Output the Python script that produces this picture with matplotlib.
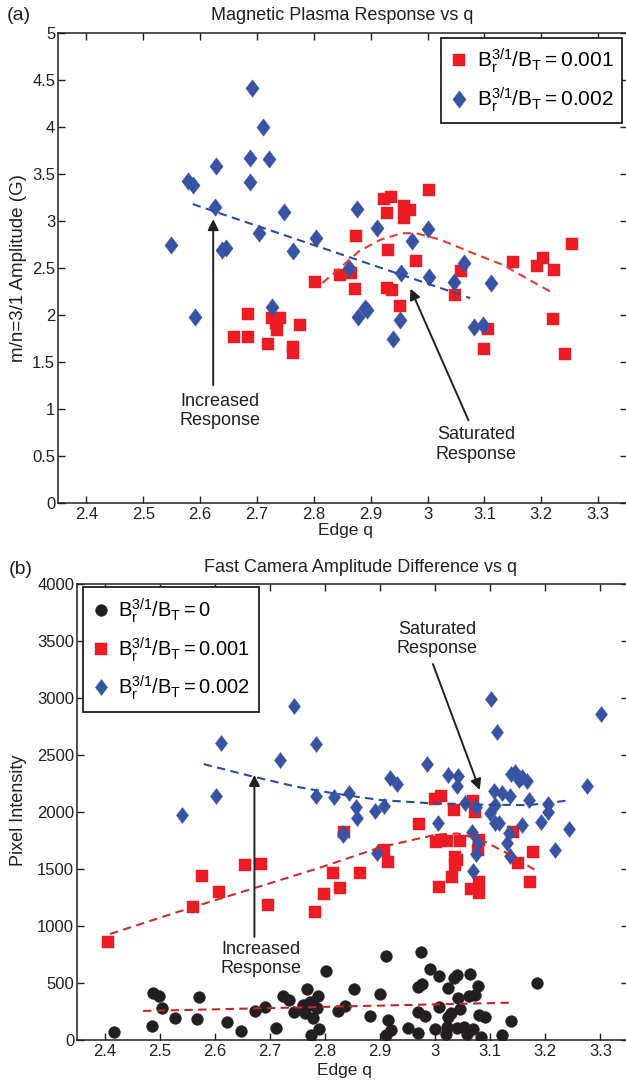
import matplotlib
matplotlib.use("Agg")
import matplotlib.pyplot as plt
from matplotlib.path import Path
from matplotlib.ticker import FuncFormatter

plt.rcParams['font.family'] = ['Liberation Sans', 'DejaVu Sans']
plt.rcParams['mathtext.fontset'] = 'custom'
plt.rcParams['mathtext.rm'] = 'Liberation Sans'
plt.rcParams['mathtext.it'] = 'Liberation Sans:italic'
plt.rcParams['mathtext.bf'] = 'Liberation Sans:bold'

# ---------------- data: panel (a) ----------------
a_red_q = [2.66, 2.684, 2.684, 2.72, 2.727, 2.735, 2.734, 2.74, 2.764, 2.764, 2.776, 2.802,
           2.846, 2.866, 3.002, 2.923, 2.935, 2.929, 2.959, 2.97, 2.958, 2.875, 2.93, 2.98,
           3.059, 3.15, 3.193, 3.203, 3.222, 3.255, 2.872, 2.929, 2.937, 3.049, 2.952, 3.106,
           3.10, 3.22, 3.241]
a_red_v = [1.77, 2.01, 1.77, 1.69, 1.97, 1.84, 1.91, 1.97, 1.66, 1.60, 1.89, 2.35,
           2.43, 2.45, 3.33, 3.23, 3.26, 3.09, 3.16, 3.12, 3.03, 2.84, 2.69, 2.57,
           2.47, 2.56, 2.52, 2.61, 2.48, 2.76, 2.28, 2.29, 2.27, 2.21, 2.10, 1.85,
           1.64, 1.96, 1.59]

a_blue_q = [2.548, 2.591, 2.579, 2.587, 2.628, 2.627, 2.638, 2.646, 2.691, 2.71, 2.687, 2.721,
            2.688, 2.703, 2.727, 2.748, 2.764, 2.804, 2.876, 2.911, 3.0, 2.973, 2.861, 2.954,
            3.003, 3.064, 3.047, 3.111, 2.890, 2.894, 2.878, 2.952, 2.94, 3.081, 3.097]
a_blue_v = [2.74, 1.98, 3.43, 3.38, 3.58, 3.15, 2.69, 2.71, 4.41, 4.00, 3.67, 3.66,
            3.42, 2.87, 2.09, 3.10, 2.68, 2.82, 3.13, 2.93, 2.92, 2.79, 2.50, 2.45,
            2.40, 2.55, 2.35, 2.34, 2.07, 2.05, 1.98, 1.95, 1.74, 1.87, 1.89]

a_fit_red_q = [2.815, 2.846, 2.88, 2.917, 2.955, 2.98, 3.023, 3.075, 3.134, 3.18, 3.219]
a_fit_red_v = [2.34, 2.50, 2.68, 2.80, 2.87, 2.87, 2.80, 2.67, 2.53, 2.37, 2.24]
a_fit_blue_q = [2.587, 3.075]
a_fit_blue_v = [3.18, 2.18]

a_legend = [r'$\mathregular{B_r^{3/1}/B_T = 0.001}$', r'$\mathregular{B_r^{3/1}/B_T = 0.002}$']
a_xticks = [2.4, 2.5, 2.6, 2.7, 2.8, 2.9, 3.0, 3.1, 3.2, 3.3]
a_yticks = [0, 0.5, 1, 1.5, 2, 2.5, 3, 3.5, 4, 4.5, 5]

# ---------------- data: panel (b) ----------------
b_blk_q = [2.417, 2.488, 2.499, 2.505, 2.487, 2.527, 2.572, 2.568, 2.622, 2.648, 2.673, 2.692,
           2.711, 2.723, 2.734, 2.744, 2.767, 2.761, 2.772, 2.779, 2.787, 2.785, 2.764, 2.779,
           2.79, 2.775, 2.801, 2.824, 2.836, 2.853, 2.882, 2.9, 2.911, 2.914, 2.919, 2.911,
           2.951, 2.968, 2.977, 2.969, 2.982, 2.968, 2.974, 2.991, 3.007, 3.0, 3.007, 3.023,
           3.035, 3.039, 3.063, 3.077, 3.042, 3.061, 3.072, 3.029, 3.024, 3.045, 3.021, 3.02,
           3.039, 3.052, 3.057, 3.069, 3.083, 3.08, 3.09, 3.121, 3.138, 3.185]
b_blk_v = [73, 410, 389, 284, 123, 190, 380, 182, 161, 79, 254, 292,
           102, 389, 351, 248, 445, 307, 336, 307, 386, 278, 234, 196,
           96, 44, 608, 257, 298, 445, 211, 401, 737, 175, 88, 44,
           102, 468, 489, 248, 211, 58, 769, 623, 561, 96, 287, 453,
           547, 570, 576, 474, 366, 386, 395, 234, 199, 269, 117, 53,
           102, 117, 53, 94, 29, 219, 199, 44, 170, 497]

b_red_q = [2.406, 2.561, 2.577, 2.608, 2.655, 2.684, 2.697, 2.782, 2.798, 2.814, 2.827, 2.835,
           2.864, 2.907, 2.915, 2.97, 3.0, 3.01, 3.035, 3.068, 3.073, 3.002, 3.011, 3.022,
           3.046, 3.08, 3.078, 3.036, 3.039, 3.036, 3.031, 3.007, 3.065, 3.08, 3.08, 3.141,
           3.178, 3.15, 3.173]
b_red_v = [862, 1170, 1439, 1295, 1538, 1544, 1184, 1126, 1281, 1462, 1336, 1827,
           1462, 1667, 1559, 1892, 2112, 2140, 2018, 2096, 2003, 1740, 1754, 1746,
           1746, 1754, 1667, 1608, 1579, 1535, 1433, 1340, 1322, 1389, 1287, 1822,
           1646, 1550, 1383]

b_blue_q = [2.54, 2.602, 2.612, 2.718, 2.743, 2.784, 2.783, 2.816, 2.844, 2.856, 2.858, 2.891,
            2.907, 2.833, 2.832, 2.894, 2.985, 3.023, 3.041, 3.039, 2.918, 2.931, 3.101, 3.301,
            3.113, 3.137, 3.145, 3.153, 3.166, 3.158, 3.275, 3.106, 3.121, 3.136, 3.17, 3.205,
            3.205, 3.193, 3.243, 3.217, 3.006, 3.055, 3.074, 3.10, 3.109, 3.109, 3.115, 3.157,
            3.067, 3.134, 3.078, 3.13, 3.074, 3.136, 3.068]
b_blue_v = [1974, 2143, 2603, 2456, 2930, 2594, 2140, 2134, 2169, 2041, 1945, 2009,
            2055, 1813, 1798, 1638, 2421, 2325, 2319, 2231, 2296, 2246, 2991, 2860,
            2705, 2331, 2354, 2281, 2275, 2310, 2228, 2184, 2164, 2140, 2105, 2070,
            1997, 1915, 1848, 1667, 1906, 2076, 2041, 1989, 2061, 1901, 1901, 1886,
            1827, 1813, 1734, 1725, 1632, 1614, 1485]

b_fit_blk_q = [2.47, 3.142]
b_fit_blk_v = [255, 328]
b_fit_red_q = [2.41, 2.55, 2.70, 2.79, 2.90, 3.0, 3.04, 3.08, 3.13, 3.18]
b_fit_red_v = [930, 1150, 1375, 1510, 1690, 1800, 1812, 1765, 1640, 1495]
b_fit_blue_q = [2.58, 2.67, 2.75, 2.82, 2.90, 2.98, 3.08, 3.17, 3.24]
b_fit_blue_v = [2420, 2310, 2220, 2160, 2105, 2080, 2065, 2060, 2100]

b_legend = [r'$\mathregular{B_r^{3/1}/B_T = 0}$', r'$\mathregular{B_r^{3/1}/B_T = 0.001}$',
            r'$\mathregular{B_r^{3/1}/B_T = 0.002}$']
b_yticks = [0, 500, 1000, 1500, 2000, 2500, 3000, 3500, 4000]

# ---------------- styles ----------------
RED = '#ED1C24'
BLUE = '#3953A4'
BLACK = '#231F20'
INK = '#231F20'
diamond = Path([(0, 1), (0.76, 0), (0, -1), (-0.76, 0), (0, 1)],
               [Path.MOVETO, Path.LINETO, Path.LINETO, Path.LINETO, Path.CLOSEPOLY])

W, H = 626, 1085
fig = plt.figure(figsize=(W / 100, H / 100), dpi=100)


def px_axes(l, t, r, b):
    return fig.add_axes([l / W, 1 - b / H, (r - l) / W, (b - t) / H])


def style_axes(ax):
    ax.tick_params(direction='in', top=True, right=True, length=5, width=1.0,
                   labelsize=12, pad=3, colors=INK)
    ax.tick_params(axis='y', pad=2)
    for s in ax.spines.values():
        s.set_linewidth(1.1)
        s.set_color(INK)
    ax.xaxis.set_major_formatter(FuncFormatter(lambda v, p: f'{v:g}'))
    ax.yaxis.set_major_formatter(FuncFormatter(lambda v, p: f'{v:g}'))


DASH = (0, (4, 2.6))

# ---------------- panel (a) ----------------
ax1 = px_axes(58, 33, 626.5, 503)
ax1.plot(a_red_q, a_red_v, ls='none', marker='s', ms=9, color=RED, mec=RED, mew=0.3,
         label=a_legend[0])
ax1.plot(a_blue_q, a_blue_v, ls='none', marker=diamond, ms=12.5, color=BLUE, mec=BLUE, mew=0.3,
         label=a_legend[1])
ax1.plot(a_fit_red_q, a_fit_red_v, ls=DASH, lw=1.5, color='#E53A33')
ax1.plot(a_fit_blue_q, a_fit_blue_v, ls=DASH, lw=1.5, color='#2D4B9C')
ax1.set_xlim(2.35, 3.35)
ax1.set_ylim(0, 5)
ax1.set_xticks(a_xticks)
ax1.set_yticks(a_yticks)
style_axes(ax1)
leg1 = ax1.legend(loc='upper right', bbox_to_anchor=(0.992, 0.989), borderaxespad=0,
                  fancybox=False, framealpha=1, edgecolor=INK, fontsize=15,
                  handlelength=0.9, handletextpad=0.4, labelspacing=0.5,
                  borderpad=0.4)
leg1.get_frame().set_linewidth(1.3)

arrow = dict(arrowstyle='-|>', color=INK, lw=1.4, mutation_scale=16,
             shrinkA=0, shrinkB=0)
ax1.annotate('', xy=(2.623, 3.02), xytext=(2.623, 1.255), arrowprops=arrow)
ax1.text(2.635, 0.98, 'Increased\nResponse', ha='center', va='center', fontsize=13,
         color=INK)
ax1.annotate('', xy=(2.97, 2.28), xytext=(3.072, 0.88), arrowprops=arrow)
ax1.text(3.086, 0.62, 'Saturated\nResponse', ha='center', va='center', fontsize=13,
         color=INK)

fig.text(342 / W, 1 - 15 / H, 'Magnetic Plasma Response vs q', ha='center', va='center',
         fontsize=13, color=INK)
fig.text(19 / W, 1 - 15 / H, '(a)', ha='center', va='center', fontsize=14, color=INK)
fig.text(345 / W, 1 - 530 / H, 'Edge q', ha='center', va='center', fontsize=12.5,
         color=INK)
fig.text(19 / W, 1 - 268 / H, 'm/n=3/1 Amplitude (G)', ha='center', va='center',
         rotation=90, fontsize=13.5, color=INK)

# ---------------- panel (b) ----------------
ax2 = px_axes(77, 584, 628, 1040)
ax2.plot(b_blk_q, b_blk_v, ls='none', marker='o', ms=8.5, color=BLACK, mec=BLACK, mew=0.3,
         label=b_legend[0])
ax2.plot(b_red_q, b_red_v, ls='none', marker='s', ms=8.2, color=RED, mec=RED, mew=0.3,
         label=b_legend[1])
ax2.plot(b_blue_q, b_blue_v, ls='none', marker=diamond, ms=11.5, color=BLUE, mec=BLUE,
         mew=0.3, label=b_legend[2])
ax2.plot(b_fit_blk_q, b_fit_blk_v, ls=DASH, lw=1.5, color='#C1272D')
ax2.plot(b_fit_red_q, b_fit_red_v, ls=DASH, lw=1.5, color='#CC2D2D')
ax2.plot(b_fit_blue_q, b_fit_blue_v, ls=DASH, lw=1.5, color='#2D4B9C')
ax2.set_xlim(2.35, 3.35)
ax2.set_ylim(0, 4000)
ax2.set_xticks(a_xticks)
ax2.set_yticks(b_yticks)
style_axes(ax2)
leg2 = ax2.legend(loc='upper left', bbox_to_anchor=(0.011, 0.993), borderaxespad=0,
                  fancybox=False, framealpha=1, edgecolor=INK, fontsize=14.5,
                  handlelength=0.9, handletextpad=0.4, labelspacing=0.5,
                  borderpad=0.45)
leg2.get_frame().set_linewidth(1.3)

ax2.annotate('', xy=(2.672, 2325), xytext=(2.672, 904), arrowprops=arrow)
ax2.text(2.684, 710, 'Increased\nResponse', ha='center', va='center', fontsize=13,
         color=INK)
ax2.annotate('', xy=(3.081, 2193), xytext=(2.996, 3298), arrowprops=arrow)
ax2.text(3.003, 3518, 'Saturated\nResponse', ha='center', va='center', fontsize=13,
         color=INK)

fig.text(361 / W, 1 - 568 / H, 'Fast Camera Amplitude Difference vs q', ha='center',
         va='center', fontsize=13, color=INK)
fig.text(21 / W, 1 - 569 / H, '(b)', ha='center', va='center', fontsize=14, color=INK)
fig.text(344 / W, 1 - 1070 / H, 'Edge q', ha='center', va='center', fontsize=12.5,
         color=INK)
fig.text(19 / W, 1 - 810 / H, 'Pixel Intensity', ha='center', va='center', rotation=90,
         fontsize=13, color=INK)

fig.savefig('out.png', dpi=100)
